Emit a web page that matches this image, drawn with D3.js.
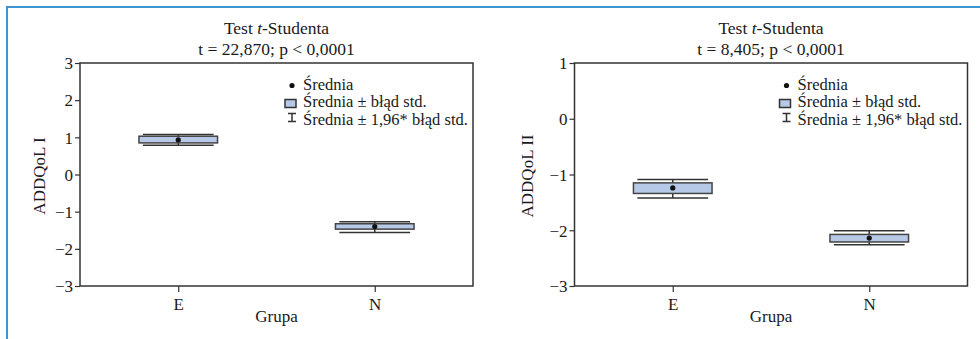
<!DOCTYPE html>
<html>
<head>
<meta charset="utf-8">
<script src="https://cdn.jsdelivr.net/npm/d3@7"></script>
<style>
  body { margin: 0; background: #fff; }
  svg { display: block; }
  svg text { font-family: "Liberation Serif", "Times New Roman", serif !important; fill: #1a1a1a; }
</style>
</head>
<body>
<svg id="chart"></svg>
<script>
const width = 980;
const height = 339;

// data
const groups = ["E", "N"];

const meanI = [0.93, -1.40];
const seLowI = [0.85, -1.47];
const seHighI = [1.03, -1.325];
const ciLowI = [0.79, -1.56];
const ciHighI = [1.075, -1.27];

const meanII = [-1.24, -2.14];
const seLowII = [-1.34, -2.21];
const seHighII = [-1.15, -2.075];
const ciLowII = [-1.42, -2.26];
const ciHighII = [-1.09, -2.01];

const ticksI = [-3, -2, -1, 0, 1, 2, 3];
const ticksII = [-3, -2, -1, 0, 1];

const statI = "t = 22,870; p < 0,0001";
const statII = "t = 8,405; p < 0,0001";

const legendLabels = ["Średnia", "Średnia ± błąd std.", "Średnia ± 1,96* błąd std."];

const svg = d3.select("#chart")
		.attr("width", width)
		.attr("height", height);

// blue page frame (top + left)
svg.append("path")
		.attr("d", `M7,${height} V7 H${width}`)
		.attr("fill", "none")
		.attr("stroke", "#3b97d3")
		.attr("stroke-width", 2);

const fill = "#b6c9e6";
const dark = "#333";

function drawPanel (cfg) {
	const x0 = cfg.left, x1 = cfg.left + 393;
	const y0 = 63, y1 = 286;

	const rows = groups.map((g, i) => ({
		g: g,
		mean: cfg.mean[i],
		seLow: cfg.seLow[i], seHigh: cfg.seHigh[i],
		ciLow: cfg.ciLow[i], ciHigh: cfg.ciHigh[i]
	}));

	const xScale = d3.scalePoint()
					.domain(groups)
					.range([x0, x1])
					.padding(0.5);
	const step = xScale.step();

	const yScale = d3.scaleLinear()
					.domain(d3.extent(cfg.ticks))
					.range([y1, y0]);

	const g = svg.append("g");

	// plot frame
	g.append("rect")
		.attr("x", x0)
		.attr("y", y0)
		.attr("width", x1 - x0)
		.attr("height", y1 - y0)
		.attr("fill", "none")
		.attr("stroke", dark)
		.attr("stroke-width", 1.5);

	// axes
	const yAxis = d3.axisLeft(yScale)
					.tickValues(cfg.ticks)
					.tickSize(5)
					.tickSizeOuter(0)
					.tickFormat(d => d < 0 ? "\u2212" + Math.abs(d) : d);
	const ya = g.append("g")
		.attr("transform", `translate(${x0},0)`)
		.call(yAxis);
	ya.select(".domain").remove();
	ya.selectAll("line").attr("stroke", dark).attr("stroke-width", 1.2);
	ya.selectAll("text")
		.attr("font-size", 17)
		.attr("x", -7)
		.attr("dy", "0.34em");

	const xAxis = d3.axisBottom(xScale)
					.tickSize(6)
					.tickSizeOuter(0);
	const xa = g.append("g")
		.attr("transform", `translate(0,${y1})`)
		.call(xAxis);
	xa.select(".domain").remove();
	xa.selectAll("line").attr("stroke", dark).attr("stroke-width", 1.2);
	xa.selectAll("text")
		.attr("font-size", 17)
		.attr("y", 24)
		.attr("dy", 0);

	// whiskers (mean ± 1,96 SE)
	const cap = step * 0.18;
	const wh = g.selectAll(".whisker")
		.data(rows)
		.enter()
		.append("g")
		.classed("whisker", true)
		.attr("stroke", dark)
		.attr("stroke-width", 1.5);
	wh.append("line")
		.attr("x1", d => xScale(d.g)).attr("x2", d => xScale(d.g))
		.attr("y1", d => yScale(d.ciLow)).attr("y2", d => yScale(d.ciHigh));
	wh.append("line")
		.attr("x1", d => xScale(d.g) - cap).attr("x2", d => xScale(d.g) + cap)
		.attr("y1", d => yScale(d.ciLow)).attr("y2", d => yScale(d.ciLow));
	wh.append("line")
		.attr("x1", d => xScale(d.g) - cap).attr("x2", d => xScale(d.g) + cap)
		.attr("y1", d => yScale(d.ciHigh)).attr("y2", d => yScale(d.ciHigh));

	// boxes (mean ± SE)
	const bw = step * 0.4;
	g.selectAll(".box")
		.data(rows)
		.enter()
		.append("rect")
		.classed("box", true)
		.attr("x", d => xScale(d.g) - bw / 2)
		.attr("width", bw)
		.attr("y", d => yScale(d.seHigh))
		.attr("height", d => yScale(d.seLow) - yScale(d.seHigh))
		.attr("fill", fill)
		.attr("stroke", "#444")
		.attr("stroke-width", 1.5);

	// means
	g.selectAll(".mean")
		.data(rows)
		.enter()
		.append("circle")
		.classed("mean", true)
		.attr("cx", d => xScale(d.g))
		.attr("cy", d => yScale(d.mean))
		.attr("r", 2.6)
		.attr("fill", "#111");

	// title
	const cx = (x0 + x1) / 2;
	const t1 = g.append("text")
		.attr("x", cx)
		.attr("y", 34)
		.attr("font-size", 17.5)
		.attr("text-anchor", "middle");
	t1.append("tspan").text("Test ");
	t1.append("tspan").attr("font-style", "italic").text("t");
	t1.append("tspan").text("-Studenta");
	g.append("text")
		.text(cfg.stat)
		.attr("x", cx)
		.attr("y", 55)
		.attr("font-size", 17.5)
		.attr("text-anchor", "middle");

	// axis labels
	g.append("text")
		.text("Grupa")
		.attr("x", cx)
		.attr("y", 322)
		.attr("font-size", 17)
		.attr("text-anchor", "middle");
	g.append("text")
		.text(cfg.yLabel)
		.attr("transform", `translate(${cfg.yLabelX},176) rotate(-90)`)
		.attr("font-size", 17)
		.attr("text-anchor", "middle");

	// legend
	const lx = x0 + 212;
	const lg = g.append("g");
	lg.append("circle")
		.attr("cx", lx)
		.attr("cy", 85.5)
		.attr("r", 2.6)
		.attr("fill", "#111");
	lg.append("rect")
		.attr("x", lx - 7)
		.attr("y", 99.5)
		.attr("width", 11)
		.attr("height", 8)
		.attr("fill", fill)
		.attr("stroke", dark)
		.attr("stroke-width", 1.5);
	lg.append("path")
		.attr("d", `M${lx - 4},113.5 H${lx + 4} M${lx},113.5 V121.5 M${lx - 4},121.5 H${lx + 4}`)
		.attr("fill", "none")
		.attr("stroke", dark)
		.attr("stroke-width", 1.5);
	lg.selectAll(".ltext")
		.data(legendLabels)
		.enter()
		.append("text")
		.classed("ltext", true)
		.text(d => d)
		.attr("x", lx + 11)
		.attr("y", (d, i) => 90 + i * 17.4)
		.attr("font-size", 16.5);
}

drawPanel({
	left: 80, ticks: ticksI, mean: meanI,
	seLow: seLowI, seHigh: seHighI, ciLow: ciLowI, ciHigh: ciHighI,
	stat: statI, yLabel: "ADDQoL I", yLabelX: 45
});

drawPanel({
	left: 574.5, ticks: ticksII, mean: meanII,
	seLow: seLowII, seHigh: seHighII, ciLow: ciLowII, ciHigh: ciHighII,
	stat: statII, yLabel: "ADDQoL II", yLabelX: 533
});
</script>
</body>
</html>
